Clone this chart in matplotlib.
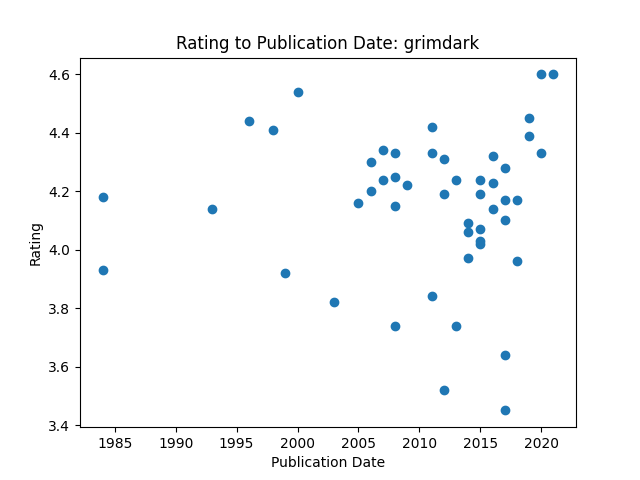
import matplotlib
matplotlib.use("Agg")
import matplotlib.pyplot as plt

# publication year and rating
years = [1984, 1984, 1993, 1996, 1998, 2000, 1999, 2003, 2005,
         2006, 2006, 2007, 2007, 2008, 2008, 2008, 2008, 2009,
         2011, 2011, 2011, 2012, 2012, 2012, 2013, 2013,
         2014, 2014, 2014, 2015, 2015, 2015, 2015, 2015,
         2016, 2016, 2016, 2017, 2017, 2017, 2017, 2017,
         2018, 2018, 2019, 2019, 2020, 2020, 2021]
ratings = [4.18, 3.93, 4.14, 4.44, 4.41, 4.54, 3.92, 3.82, 4.16,
           4.30, 4.20, 4.34, 4.24, 4.33, 4.25, 4.15, 3.74, 4.22,
           4.42, 4.33, 3.84, 4.31, 4.19, 3.52, 4.24, 3.74,
           4.09, 4.06, 3.97, 4.24, 4.19, 4.07, 4.03, 4.02,
           4.32, 4.23, 4.14, 4.28, 4.17, 4.10, 3.64, 3.45,
           4.17, 3.96, 4.45, 4.39, 4.60, 4.33, 4.60]

fig, ax = plt.subplots(figsize=(6.4, 4.8), dpi=100)
ax.scatter(years, ratings)
ax.set_title("Rating to Publication Date: grimdark")
ax.set_xlabel("Publication Date")
ax.set_ylabel("Rating")
fig.savefig("out.png")
